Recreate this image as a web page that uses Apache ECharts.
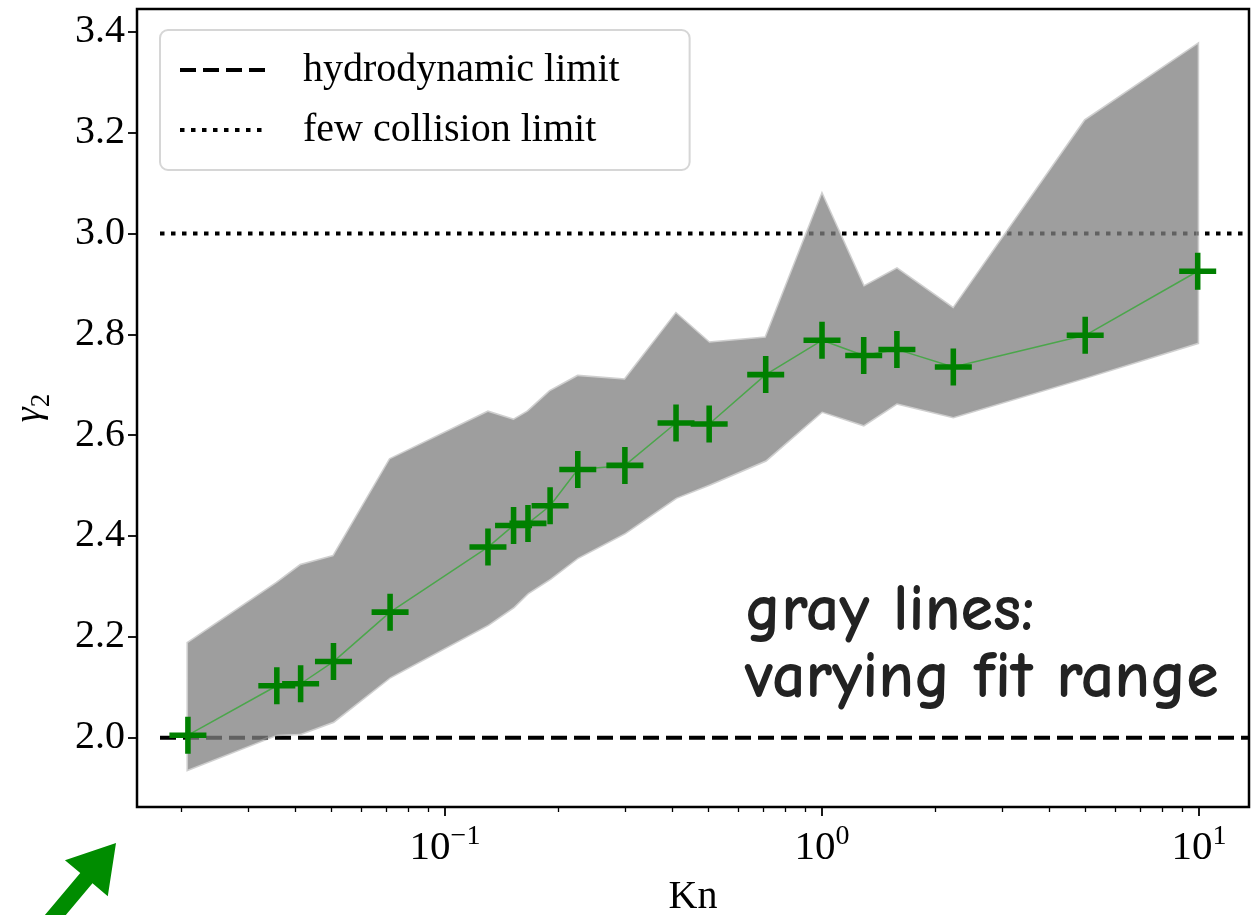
<!DOCTYPE html>
<html>
<head>
<meta charset="utf-8">
<script src="https://cdn.jsdelivr.net/npm/echarts@6/dist/echarts.min.js"></script>
<style>
  html, body { margin: 0; padding: 0; background: #fff; overflow: hidden; }
  #main { width: 1258px; height: 915px; }
</style>
</head>
<body>
<div id="main"></div>
<script>
// Knudsen numbers of the fitted points and the fitted gamma_2
var KN = [0.0208, 0.0358, 0.0414, 0.0506, 0.0715, 0.130, 0.152, 0.166, 0.190, 0.225,
          0.300, 0.410, 0.502, 0.709, 1.00, 1.29, 1.58, 2.23, 4.99, 9.92];
var GAMMA2 = [2.005, 2.103, 2.107, 2.151, 2.249, 2.378, 2.421, 2.425, 2.460, 2.532,
              2.540, 2.624, 2.622, 2.720, 2.788, 2.758, 2.770, 2.735, 2.798, 2.925];
// spread of the gray lines (varying fit range): upper and lower edge at each Kn
var FIT_HI = [2.188, 2.307, 2.342, 2.360, 2.552, 2.646, 2.630, 2.647, 2.687, 2.717,
              2.710, 2.841, 2.783, 2.793, 3.077, 2.894, 2.930, 2.851, 3.224, 3.375];
var FIT_LO = [1.937, 2.006, 2.008, 2.032, 2.120, 2.224, 2.259, 2.287, 2.315, 2.357,
              2.406, 2.476, 2.502, 2.550, 2.647, 2.620, 2.663, 2.636, 2.714, 2.783];
// reference limits
var HYDRO_LIMIT = 2.0;
var FEW_COLL_LIMIT = 3.0;
var LIMIT_KN_START = 0.01754;
// ticks
var X_MAJOR = [0.1, 1, 10];
var X_MINOR = [0.02, 0.03, 0.04, 0.05, 0.06, 0.07, 0.08, 0.09,
               0.2, 0.3, 0.4, 0.5, 0.6, 0.7, 0.8, 0.9,
               2, 3, 4, 5, 6, 7, 8, 9];
var Y_TICKS = [2.0, 2.2, 2.4, 2.6, 2.8, 3.0, 3.2, 3.4];

var X_MIN = -1.817, X_MAX = 1.1326;   // log10(Kn) range
var Y_MIN = 1.8626, Y_MAX = 3.445;

var chartDom = document.getElementById('main');
var myChart = echarts.init(chartDom);

var serif = '"Liberation Serif", "DejaVu Serif", serif';
var lg = function (v) { return Math.log10(v); };

var fitData = KN.map(function (k, i) { return [lg(k), FIT_LO[i], FIT_HI[i]]; });
var fitLine = KN.map(function (k, i) { return [lg(k), GAMMA2[i]]; });

function renderBand(params, api) {
  if (params.dataIndex !== 0) return null;
  var pts = [];
  for (var i = 0; i < fitData.length; i++) pts.push(api.coord([fitData[i][0], fitData[i][2]]));
  for (var j = fitData.length - 1; j >= 0; j--) pts.push(api.coord([fitData[j][0], fitData[j][1]]));
  return {
    type: 'polygon',
    shape: { points: pts },
    style: { fill: 'rgba(128,128,128,0.76)', stroke: 'rgba(160,160,160,0.5)', lineWidth: 3 }
  };
}

// green arrow below the axis (annotation)
function arrowPoints(tail, tip, headLen, headHalf, shaftHalf) {
  var dx = tip[0] - tail[0], dy = tip[1] - tail[1];
  var L = Math.sqrt(dx * dx + dy * dy);
  var ux = dx / L, uy = dy / L, nx = -uy, ny = ux;
  var bx = tip[0] - ux * headLen, by = tip[1] - uy * headLen;
  return [
    tip,
    [bx + nx * headHalf, by + ny * headHalf],
    [bx + nx * shaftHalf, by + ny * shaftHalf],
    [tail[0] + nx * shaftHalf, tail[1] + ny * shaftHalf],
    [tail[0] - nx * shaftHalf, tail[1] - ny * shaftHalf],
    [bx - nx * shaftHalf, by - ny * shaftHalf],
    [bx - nx * headHalf, by - ny * headHalf]
  ];
}

var PLUS = 'path://M6.8,0H9.2V6.8H16V9.2H9.2V16H6.8V9.2H0V6.8H6.8Z';

var option = {
  animation: false,
  backgroundColor: '#fff',
  grid: {
    left: 137, right: 9, top: 9, bottom: 108,
    outerBoundsMode: 'none',
    show: true, borderColor: '#000', borderWidth: 2.5, backgroundColor: 'transparent',
    containLabel: false
  },
  legend: {
    left: 160, top: 30,
    orient: 'vertical',
    data: [{
      name: 'hydrodynamic limit',
      itemStyle: { opacity: 0 },
      lineStyle: { color: '#000', width: 4, type: [16, 7] }
    }, {
      name: 'few collision limit',
      itemStyle: { opacity: 0 },
      lineStyle: { color: '#000', width: 4, type: [4.5, 6.5] }
    }],
    itemWidth: 87, itemHeight: 14, itemGap: 16,
    padding: [18, 70, 18, 18],
    borderColor: '#d6d6d6', borderWidth: 2, borderRadius: 8,
    backgroundColor: 'rgba(255,255,255,0.8)',
    textStyle: { fontFamily: serif, fontSize: 40, color: '#000', lineHeight: 44, padding: [0, 0, 0, 31] }
  },
  xAxis: [{
    type: 'value', min: X_MIN, max: X_MAX,
    axisLine: { show: false, onZero: false },
    splitLine: { show: false },
    axisTick: { show: true, length: 9, lineStyle: { color: '#000', width: 1.8 }, customValues: X_MAJOR.map(lg) },
    axisLabel: {
      customValues: X_MAJOR.map(lg),
      margin: 16,
      formatter: function (v) {
        var e = Math.round(v);
        return '{b|10}{s|' + (e < 0 ? '\u2212' : '') + Math.abs(e) + '}';
      },
      rich: {
        b: { fontFamily: serif, fontSize: 41, color: '#000', verticalAlign: 'bottom', lineHeight: 46 },
        s: { fontFamily: serif, fontSize: 28, color: '#000', verticalAlign: 'top', lineHeight: 46 }
      }
    },
    name: 'Kn', nameLocation: 'middle', nameGap: 70,
    nameTextStyle: { fontFamily: serif, fontSize: 40, color: '#000' }
  }, {
    type: 'value', min: X_MIN, max: X_MAX, position: 'bottom',
    axisLine: { show: false, onZero: false }, splitLine: { show: false },
    axisLabel: { show: false },
    axisTick: { show: true, length: 5, lineStyle: { color: '#000', width: 1.3 }, customValues: X_MINOR.map(lg) }
  }],
  yAxis: {
    type: 'value', min: Y_MIN, max: Y_MAX,
    axisLine: { show: false, onZero: false },
    splitLine: { show: false },
    axisTick: { show: true, length: 9, lineStyle: { color: '#000', width: 1.8 }, customValues: Y_TICKS },
    axisLabel: {
      customValues: Y_TICKS, margin: 12,
      fontFamily: serif, fontSize: 40, color: '#000',
      formatter: function (v) { return v.toFixed(1); }
    },
    name: '{g|\u03b3}{s|2}', nameLocation: 'middle', nameGap: 82, nameRotate: 90,
    nameTextStyle: {
      rich: {
        g: { fontFamily: serif, fontStyle: 'italic', fontSize: 38, color: '#000', verticalAlign: 'top', lineHeight: 44 },
        s: { fontFamily: serif, fontSize: 27, color: '#000', verticalAlign: 'bottom', lineHeight: 44 }
      }
    }
  },
  graphic: [{
    type: 'text', left: 745, top: 578, z: 100,
    style: {
      text: 'gray lines:\nvarying fit range',
      font: 'bold 66px "Comic Neue", "Comic Sans MS", "Noto Sans", sans-serif',
      fill: '#222', lineHeight: 67
    }
  }, {
    type: 'polygon', z: 100,
    shape: { points: arrowPoints([36, 938], [116, 843], 46, 28, 8) },
    style: { fill: '#008c00' }
  }],
  series: [{
    name: 'hydrodynamic limit', type: 'line', symbol: 'none', z: 1,
    data: [[lg(LIMIT_KN_START), HYDRO_LIMIT], [X_MAX, HYDRO_LIMIT]],
    lineStyle: { color: '#000', width: 4, type: [16, 7], cap: 'butt' }
  }, {
    name: 'few collision limit', type: 'line', symbol: 'none', z: 1,
    data: [[lg(LIMIT_KN_START), FEW_COLL_LIMIT], [X_MAX, FEW_COLL_LIMIT]],
    lineStyle: { color: '#000', width: 4, type: [4.5, 6.5], cap: 'butt' }
  }, {
    name: 'fit range', type: 'custom', z: 2,
    renderItem: renderBand,
    data: fitData,
    encode: { x: 0, y: [1, 2] }
  }, {
    name: 'gamma2', type: 'line', z: 3,
    data: fitLine,
    symbol: PLUS, symbolSize: 37,
    itemStyle: { color: '#008000' },
    lineStyle: { color: 'rgba(40,170,40,0.7)', width: 1.5 }
  }]
};

option && myChart.setOption(option);
</script>
</body>
</html>
